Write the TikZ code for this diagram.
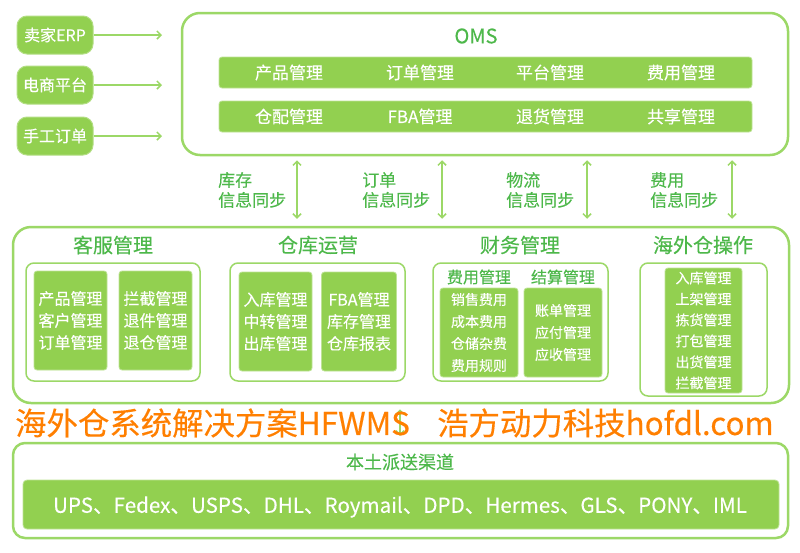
\documentclass[tikz,border=0pt]{standalone}
\usepackage{fontspec}
\setmainfont{Noto Sans CJK SC}[FakeBold=0.25]
\usetikzlibrary{arrows.meta,positioning}

\definecolor{boxgreen}{HTML}{92D050}
\definecolor{framegreen}{HTML}{9CD867}
\definecolor{titlegreen}{HTML}{4DB84A}
\definecolor{wmorange}{HTML}{FF7F00}

\tikzset{
  inbox/.style={rounded corners=10pt, fill=boxgreen, draw=boxgreen!70, line width=1pt, text=white,
    minimum width=76pt, minimum height=38pt, inner sep=0pt, font=\fontsize{16}{20}\selectfont},
  frame/.style={rounded corners=18pt, draw=framegreen, line width=2.5pt, inner sep=0pt},
  panel/.style={rounded corners=8pt, draw=framegreen, line width=1.5pt, fill=white, inner sep=0pt},
  gbox/.style={rounded corners=3pt, fill=boxgreen, draw=boxgreen!60, line width=0.8pt, text=white,
    inner sep=0pt, align=center},
  wtext/.style={text=white, inner sep=0pt, font=\fontsize{17}{20}\selectfont},
  gtitle/.style={text=titlegreen, inner sep=0pt},
  synclbl/.style={text=titlegreen, inner sep=0pt, align=left, font=\fontsize{17}{20}\selectfont},
  link/.style={-{Straight Barb[length=4pt,width=8pt]}, draw=framegreen, line width=1.5pt},
  sync/.style={{Straight Barb[length=4pt,width=8pt]}-{Straight Barb[length=4pt,width=8pt]},
    draw=framegreen, line width=1.5pt},
  wmark/.style={text=wmorange, inner sep=0pt, font=\fontsize{31.4}{32}\selectfont}
}

\begin{document}
\begin{tikzpicture}[x=1pt, y=-1pt]
    \useasboundingbox[fill=white] (0,0) rectangle (800,552);

    % inputs
    \node[inbox] (in1) at (55,35) {卖家ERP};
    \node[inbox] (in2) at (55,85) {电商平台};
    \node[inbox] (in3) at (55,136) {手工订单};
    \coordinate (e1) at (162,35);
    \coordinate (e2) at (162,85);
    \coordinate (e3) at (162,136);
    \draw[link] (in1) -- (e1);
    \draw[link] (in2) -- (e2);
    \draw[link] (in3) -- (e3);

    % OMS
    \node[frame, minimum width=606pt, minimum height=142pt] (oms) at (485,84) {};
    \node[gtitle, font=\fontsize{20}{20}\selectfont] (omst) at (476,36) {OMS};
    \node[gbox, minimum width=533pt, minimum height=31pt] (row1) at (485.5,72.5) {};
    \node[gbox, minimum width=533pt, minimum height=31pt] (row2) at (485.5,116.5) {};
    \node[wtext] (o1) at (289,72.5) {产品管理};
    \node[wtext] (o2) at (420,72.5) {订单管理};
    \node[wtext] (o3) at (550,72.5) {平台管理};
    \node[wtext] (o4) at (681,72.5) {费用管理};
    \node[wtext] (o5) at (289,116.5) {仓配管理};
    \node[wtext] (o6) at (420,116.5) {FBA管理};
    \node[wtext] (o7) at (550,116.5) {退货管理};
    \node[wtext] (o8) at (681,116.5) {共享管理};

    % middle
    \node[frame, minimum width=776pt, minimum height=176pt] (mid) at (401,315) {};
    \node[gtitle, font=\fontsize{20}{20}\selectfont] (t1) at (113,245) {客服管理};
    \node[gtitle, font=\fontsize{20}{20}\selectfont] (t2) at (318,245) {仓库运营};
    \node[gtitle, font=\fontsize{20}{20}\selectfont] (t3) at (520,245) {财务管理};
    \node[gtitle, font=\fontsize{20}{20}\selectfont] (t4) at (703,245) {海外仓操作};

    % sync arrows
    \coordinate (s1) at (297,0);
    \coordinate (s2) at (442,0);
    \coordinate (s3) at (587,0);
    \coordinate (s4) at (732,0);
    \draw[sync, shorten <=4pt, shorten >=7pt] (oms.south -| s1) -- (mid.north -| s1);
    \draw[sync, shorten <=4pt, shorten >=7pt] (oms.south -| s2) -- (mid.north -| s2);
    \draw[sync, shorten <=4pt, shorten >=7pt] (oms.south -| s3) -- (mid.north -| s3);
    \draw[sync, shorten <=4pt, shorten >=7pt] (oms.south -| s4) -- (mid.north -| s4);
    \node[synclbl, anchor=west] (l1) at (218,190) {库存\\信息同步};
    \node[synclbl, anchor=west] (l2) at (362,190) {订单\\信息同步};
    \node[synclbl, anchor=west] (l3) at (506,190) {物流\\信息同步};
    \node[synclbl, anchor=west] (l4) at (650,190) {费用\\信息同步};

    % customer service
    \node[panel, minimum width=174pt, minimum height=118pt] (p1) at (113,322) {};
    \node[gbox, minimum width=73pt, minimum height=99pt, font=\fontsize{16}{22}\selectfont] (k1) at (70.5,320.5) {产品管理\\客户管理\\订单管理};
    \node[gbox, minimum width=73pt, minimum height=99pt, font=\fontsize{16}{22}\selectfont] (k2) at (155.5,320.5) {拦截管理\\退件管理\\退仓管理};

    % warehouse
    \node[panel, minimum width=175pt, minimum height=118pt] (p2) at (317.5,322) {};
    \node[gbox, minimum width=73pt, minimum height=99pt, font=\fontsize{16}{22}\selectfont] (c1) at (275.5,321.5) {入库管理\\中转管理\\出库管理};
    \node[gbox, minimum width=75pt, minimum height=99pt, font=\fontsize{16}{22}\selectfont] (c2) at (359,321.5) {FBA管理\\库存管理\\仓库报表};

    % finance
    \node[panel, minimum width=175pt, minimum height=118pt] (p3) at (520.5,322) {};
    \node[gtitle, font=\fontsize{16}{16}\selectfont] (f1t) at (479,277) {费用管理};
    \node[gtitle, font=\fontsize{16}{16}\selectfont] (f2t) at (563,277) {结算管理};
    \node[gbox, minimum width=78pt, minimum height=89pt, font=\fontsize{14}{22}\selectfont] (f1) at (479,332.5) {销售费用\\成本费用\\仓储杂费\\费用规则};
    \node[gbox, minimum width=78pt, minimum height=89pt, font=\fontsize{14}{22}\selectfont] (f2) at (563,332.5) {账单管理\\应付管理\\应收管理};

    % overseas operations
    \node[panel, minimum width=127pt, minimum height=133pt] (p4) at (703.5,329.5) {};
    \node[gbox, minimum width=77pt, minimum height=125pt, font=\fontsize{14}{21}\selectfont] (h1) at (703.5,330.5) {入库管理\\上架管理\\拣货管理\\打包管理\\出货管理\\拦截管理};

    % local delivery
    \node[frame, rounded corners=12pt, minimum width=775pt, minimum height=95pt] (loc) at (400.5,490.5) {};
    \node[gtitle, font=\fontsize{18}{18}\selectfont] (loct) at (400,462) {本土派送渠道};
    \node[gbox, rounded corners=4pt, minimum width=756pt, minimum height=49pt] (carr) at (401,504.5) {};
    \node[wtext, font=\fontsize{20.6}{21}\selectfont] (carrt) at (400,507) {UPS、Fedex、USPS、DHL、Roymail、DPD、Hermes、GLS、PONY、IML};
    \coordinate (s5) at (400,0);
    \draw[sync, shorten <=5pt, shorten >=6pt] (mid.south -| s5) -- (loc.north -| s5);

    % watermark
    \node[wmark, anchor=west] (wm1) at (15,423) {海外仓系统解决方案HFWMS};
    \node[wmark, anchor=west] (wm2) at (437,423) {浩方动力科技hofdl.com};
\end{tikzpicture}
\end{document}
